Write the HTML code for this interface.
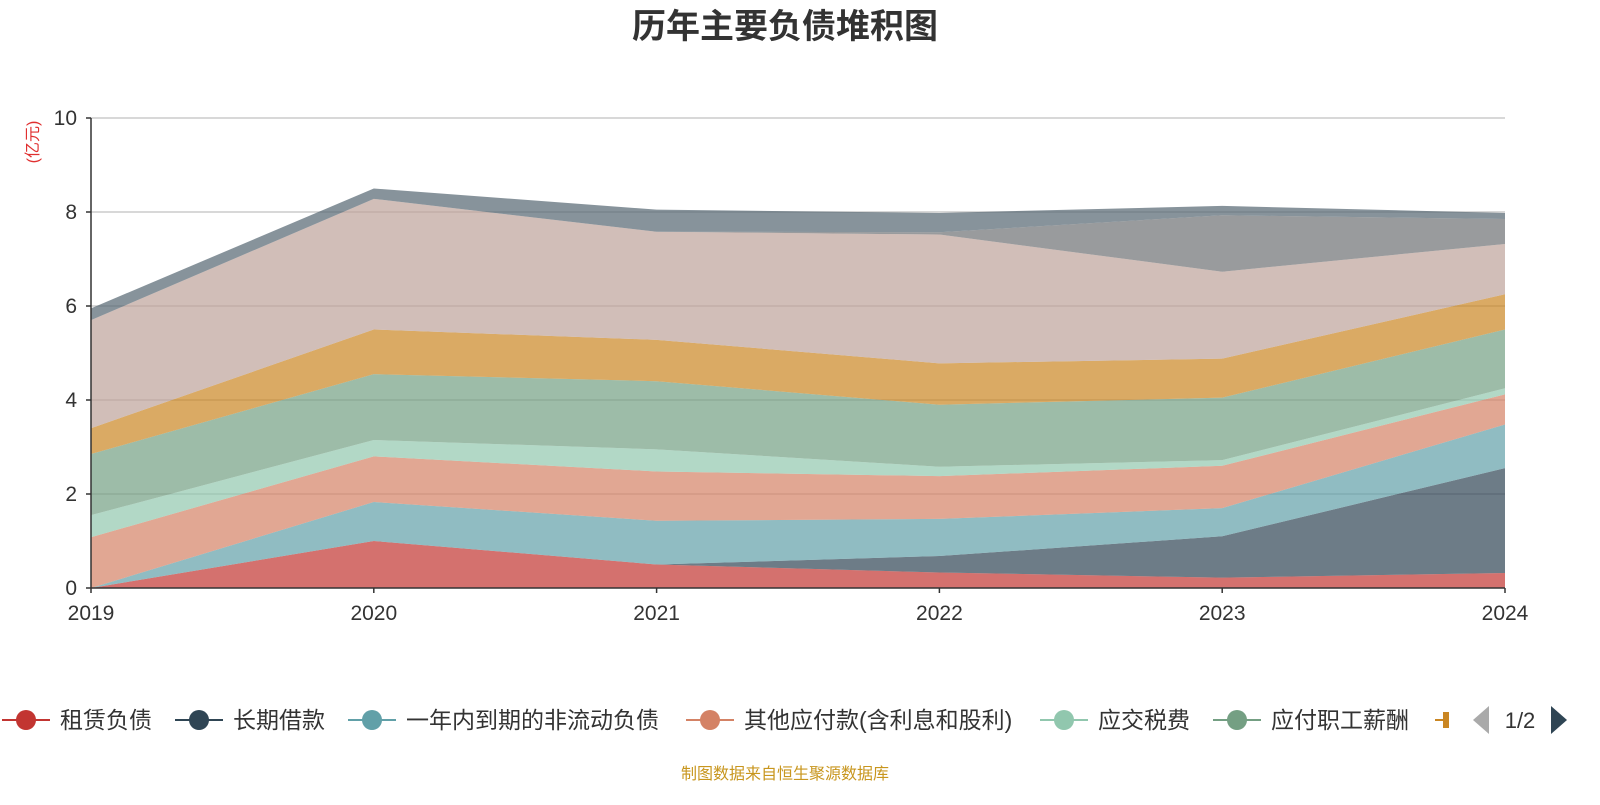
<!DOCTYPE html>
<html><head><meta charset="utf-8"><style>
body{margin:0;background:#fff;font-family:"Liberation Sans","Noto Sans CJK SC",sans-serif;}
svg text{font-family:"Liberation Sans","Noto Sans CJK SC",sans-serif;}
</style></head><body>
<svg id="c" width="1600" height="800">
<text x="785" y="38" text-anchor="middle" font-size="34" font-weight="bold" fill="#333">历年主要负债堆积图</text>
<text transform="translate(38,142) rotate(-90)" text-anchor="middle" font-size="16" fill="#e03030">(亿元)</text>
<g id="grid"></g><g id="areas"></g><g id="axes"></g><g id="legend"></g>
<text x="785" y="779" text-anchor="middle" font-size="16" fill="#c8961e">制图数据来自恒生聚源数据库</text>
</svg>
<script>
const years=['2019','2020','2021','2022','2023','2024'];
const yTicks=[0,2,4,6,8,10];
const names=['租赁负债','长期借款','一年内到期的非流动负债','其他应付款(含利息和股利)','应交税费','应付职工薪酬','应付账款','合同负债','短期借款','应付票据'];
const colors=['#c23531','#2f4554','#61a0a8','#d48265','#91c7ae','#749f83','#ca8622','#bda29a','#6e7074','#546570'];
const s0=[0,1.0,0.5,0.33,0.22,0.32];
const s1=[0,0,0,0.35,0.88,2.23];
const s2=[0,0.83,0.93,0.79,0.6,0.93];
const s3=[1.08,0.97,1.05,0.91,0.9,0.64];
const s4=[0.47,0.35,0.47,0.2,0.12,0.13];
const s5=[1.3,1.4,1.45,1.32,1.33,1.25];
const s6=[0.55,0.95,0.88,0.88,0.83,0.75];
const s7=[2.3,2.78,2.3,2.74,1.85,1.07];
const s8=[0,0,0,0.05,1.2,0.53];
const s9=[0.25,0.22,0.47,0.41,0.2,0.13];
const series=[s0,s1,s2,s3,s4,s5,s6,s7,s8,s9];
const NS='http://www.w3.org/2000/svg';
const X0=91,X1=1505,Y0=588,Y1=118;
const xs=i=>X0+(X1-X0)*i/(years.length-1);
const ys=v=>Y0-(Y0-Y1)*v/10;
function mk(t,a,p){const e=document.createElementNS(NS,t);for(const k in a)e.setAttribute(k,a[k]);p.appendChild(e);return e;}
const grid=document.getElementById('grid'),axes=document.getElementById('axes'),areas=document.getElementById('areas'),leg=document.getElementById('legend');
yTicks.forEach(v=>{
 if(v>0){const l=mk('line',{x1:X0,x2:X1,y1:ys(v),y2:ys(v),stroke:'#ccc','stroke-width':1.5},grid);
 
 }
 const t=mk('text',{x:X0-14,y:ys(v)+7,'text-anchor':'end','font-size':21,fill:'#333'},axes);t.textContent=v;
 
 
 mk('line',{x1:X0-5,x2:X0,y1:ys(v),y2:ys(v),stroke:'#333','stroke-width':1.5},axes);
});
const ya=mk('line',{x1:X0,x2:X0,y1:Y1,y2:Y0,stroke:'#333','stroke-width':1.5},axes);


const xa=mk('line',{x1:X0,x2:X1,y1:Y0,y2:Y0,stroke:'#333','stroke-width':1.5},axes);


years.forEach((y,i)=>{
 mk('line',{x1:xs(i),x2:xs(i),y1:Y0,y2:Y0+5,stroke:'#333','stroke-width':1.5},axes);
 const t=mk('text',{x:xs(i),y:Y0+32,'text-anchor':'middle','font-size':21,fill:'#333'},axes);t.textContent=y;
 
 
});
let base=years.map(()=>0);
series.forEach((s,k)=>{
 const top=base.map((b,i)=>b+s[i]);
 let d='M'+top.map((v,i)=>xs(i)+','+ys(v)).join(' L');
 for(let i=years.length-1;i>=0;i--)d+=' L'+xs(i)+','+ys(base[i]);
 const p=mk('path',{d:d+'Z',fill:colors[k],'fill-opacity':0.7,stroke:'none'},areas);
 
 
 base=top;
});
const lx=[2,175,348,686,1040,1213,1435];
lx.forEach((x,k)=>{
 const g=mk('g',{},leg);
 
 
 if(k<6){
 mk('line',{x1:x,x2:x+48,y1:720,y2:720,stroke:colors[k],'stroke-width':2},g);
 mk('circle',{cx:x+24,cy:720,r:10,fill:colors[k]},g);
 const t=mk('text',{x:x+58,y:728,'font-size':23,fill:'#333'},g);t.textContent=names[k];
 } else {
 mk('line',{x1:x,x2:x+14,y1:720,y2:720,stroke:colors[k],'stroke-width':2},g);
 mk('rect',{x:x+8,y:712,width:6,height:16,fill:colors[k]},g);
 }
});
const pl=mk('path',{d:'M1489,706 L1473,720 L1489,734Z',fill:'#aaa'},leg);


const pt=mk('text',{x:1520,y:728,'text-anchor':'middle','font-size':22,fill:'#333'},leg);pt.textContent='1/2';


const pr=mk('path',{d:'M1551,706 L1567,720 L1551,734Z',fill:'#2f4554'},leg);


</script>
</body></html>
